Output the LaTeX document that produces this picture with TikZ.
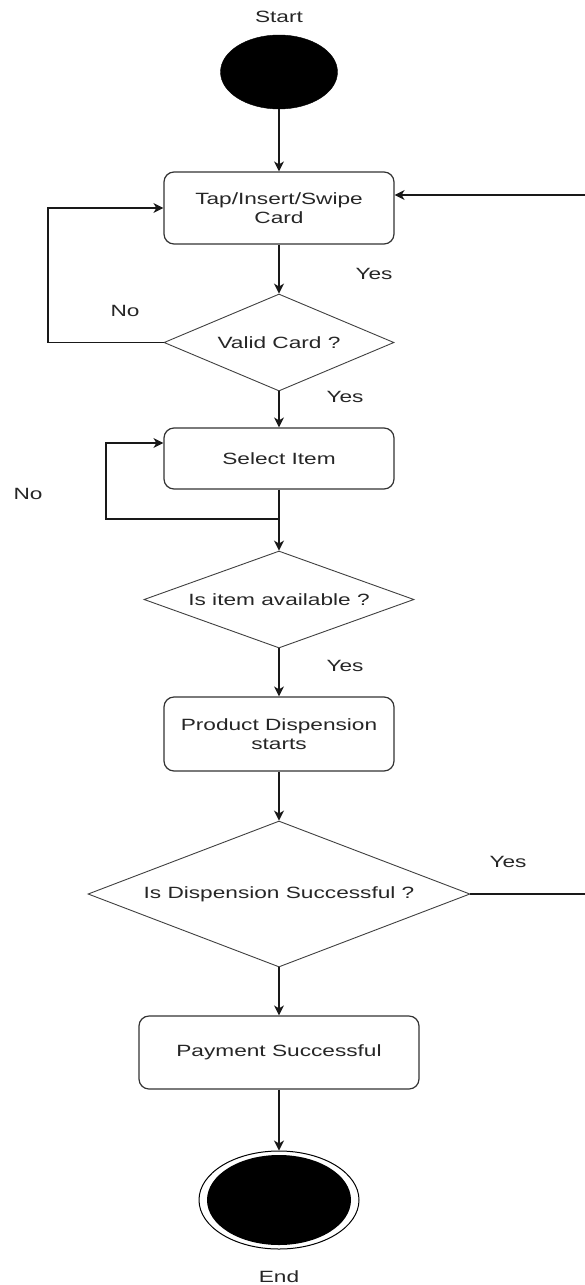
\documentclass[tikz,border=0pt]{standalone}
\usepackage{fontspec}
\setmainfont{Liberation Sans}[FakeStretch=1.39]
\usetikzlibrary{shapes.geometric,arrows.meta}
\begin{document}
\begin{tikzpicture}[x=1pt,y=-1pt,
  font=\fontsize{16.3}{19}\selectfont,
  txt/.style={text=black!85, inner sep=0pt, align=center},
  every label/.style={text=black!85, inner sep=0pt},
  box/.style={draw=black!80, line width=1.2pt, rounded corners=10pt, fill=white,
    minimum width=230, text=black!85, align=center, inner sep=0pt},
  dia/.style={diamond, draw=black!75, line width=0.9pt, fill=white, inner sep=0pt},
  arr/.style={-{Stealth[length=10pt,width=10pt,inset=3pt]}, line width=1.3pt, draw=black!90},
  ln/.style={line width=1.3pt, draw=black!90}]
\useasboundingbox (0,0) rectangle (584,1285);

% nodes
\node[txt] (lstart) at (279,17) {Start};
\node[ellipse, fill=black, draw=black, minimum width=117, minimum height=74, inner sep=0pt] (start) at (279,72) {};
\node[box, minimum height=72] (card) at (279,208) {Tap/Insert/Swipe\\Card};
\node[dia, minimum width=230, minimum height=97, label=center:{Valid Card ?}] (valid) at (279,342.5) {};
\node[box, minimum height=61] (select) at (279,458.5) {Select Item};
\node[dia, minimum width=270, minimum height=97, label=center:{Is item available ?}] (avail) at (279,599.5) {};
\node[box, minimum height=74] (prod) at (279,734) {Product Dispension\\starts};
\node[dia, minimum width=382, minimum height=146, label=center:{Is Dispension Successful ?}] (succ) at (279,894) {};
\node[box, minimum width=280, minimum height=73] (pay) at (279,1052.5) {Payment Successful};
\node[ellipse, draw=black, line width=1pt, fill=white, minimum width=160, minimum height=98, inner sep=0pt] (end) at (279,1200) {};
\node[ellipse, fill=black, minimum width=144, minimum height=90, inner sep=0pt] (endin) at (279,1200) {};
\node[txt] (lend) at (279,1277) {End};

% edge labels
\node[txt] (y1) at (374,274) {Yes};
\node[txt] (n1) at (125,311) {No};
\node[txt] (y2) at (345,397) {Yes};
\node[txt] (n2) at (28,494) {No};
\node[txt] (y3) at (345,666) {Yes};
\node[txt] (y4) at (508,862) {Yes};

% helper coordinates
\coordinate (lv) at (48,208);
\coordinate (j) at (279,519);
\coordinate (lp) at (106,443);
\coordinate (rv) at (595,195);

% connectors
\draw[arr] (start) -- (card);
\draw[arr] (card) -- (valid);
\draw[arr] (valid.west) -| (lv) -- (card.west);
\draw[arr] (valid) -- (select);
\draw[arr] (select) -- (avail);
\draw[arr] (j) -| (lp) -- (lp -| select.west);
\draw[arr] (avail) -- (prod);
\draw[arr] (prod) -- (succ);
\draw[arr] (succ.east) -| (rv) -- (rv -| card.east);
\draw[arr] (succ) -- (pay);
\draw[arr] (pay) -- (end);
\end{tikzpicture}
\end{document}
